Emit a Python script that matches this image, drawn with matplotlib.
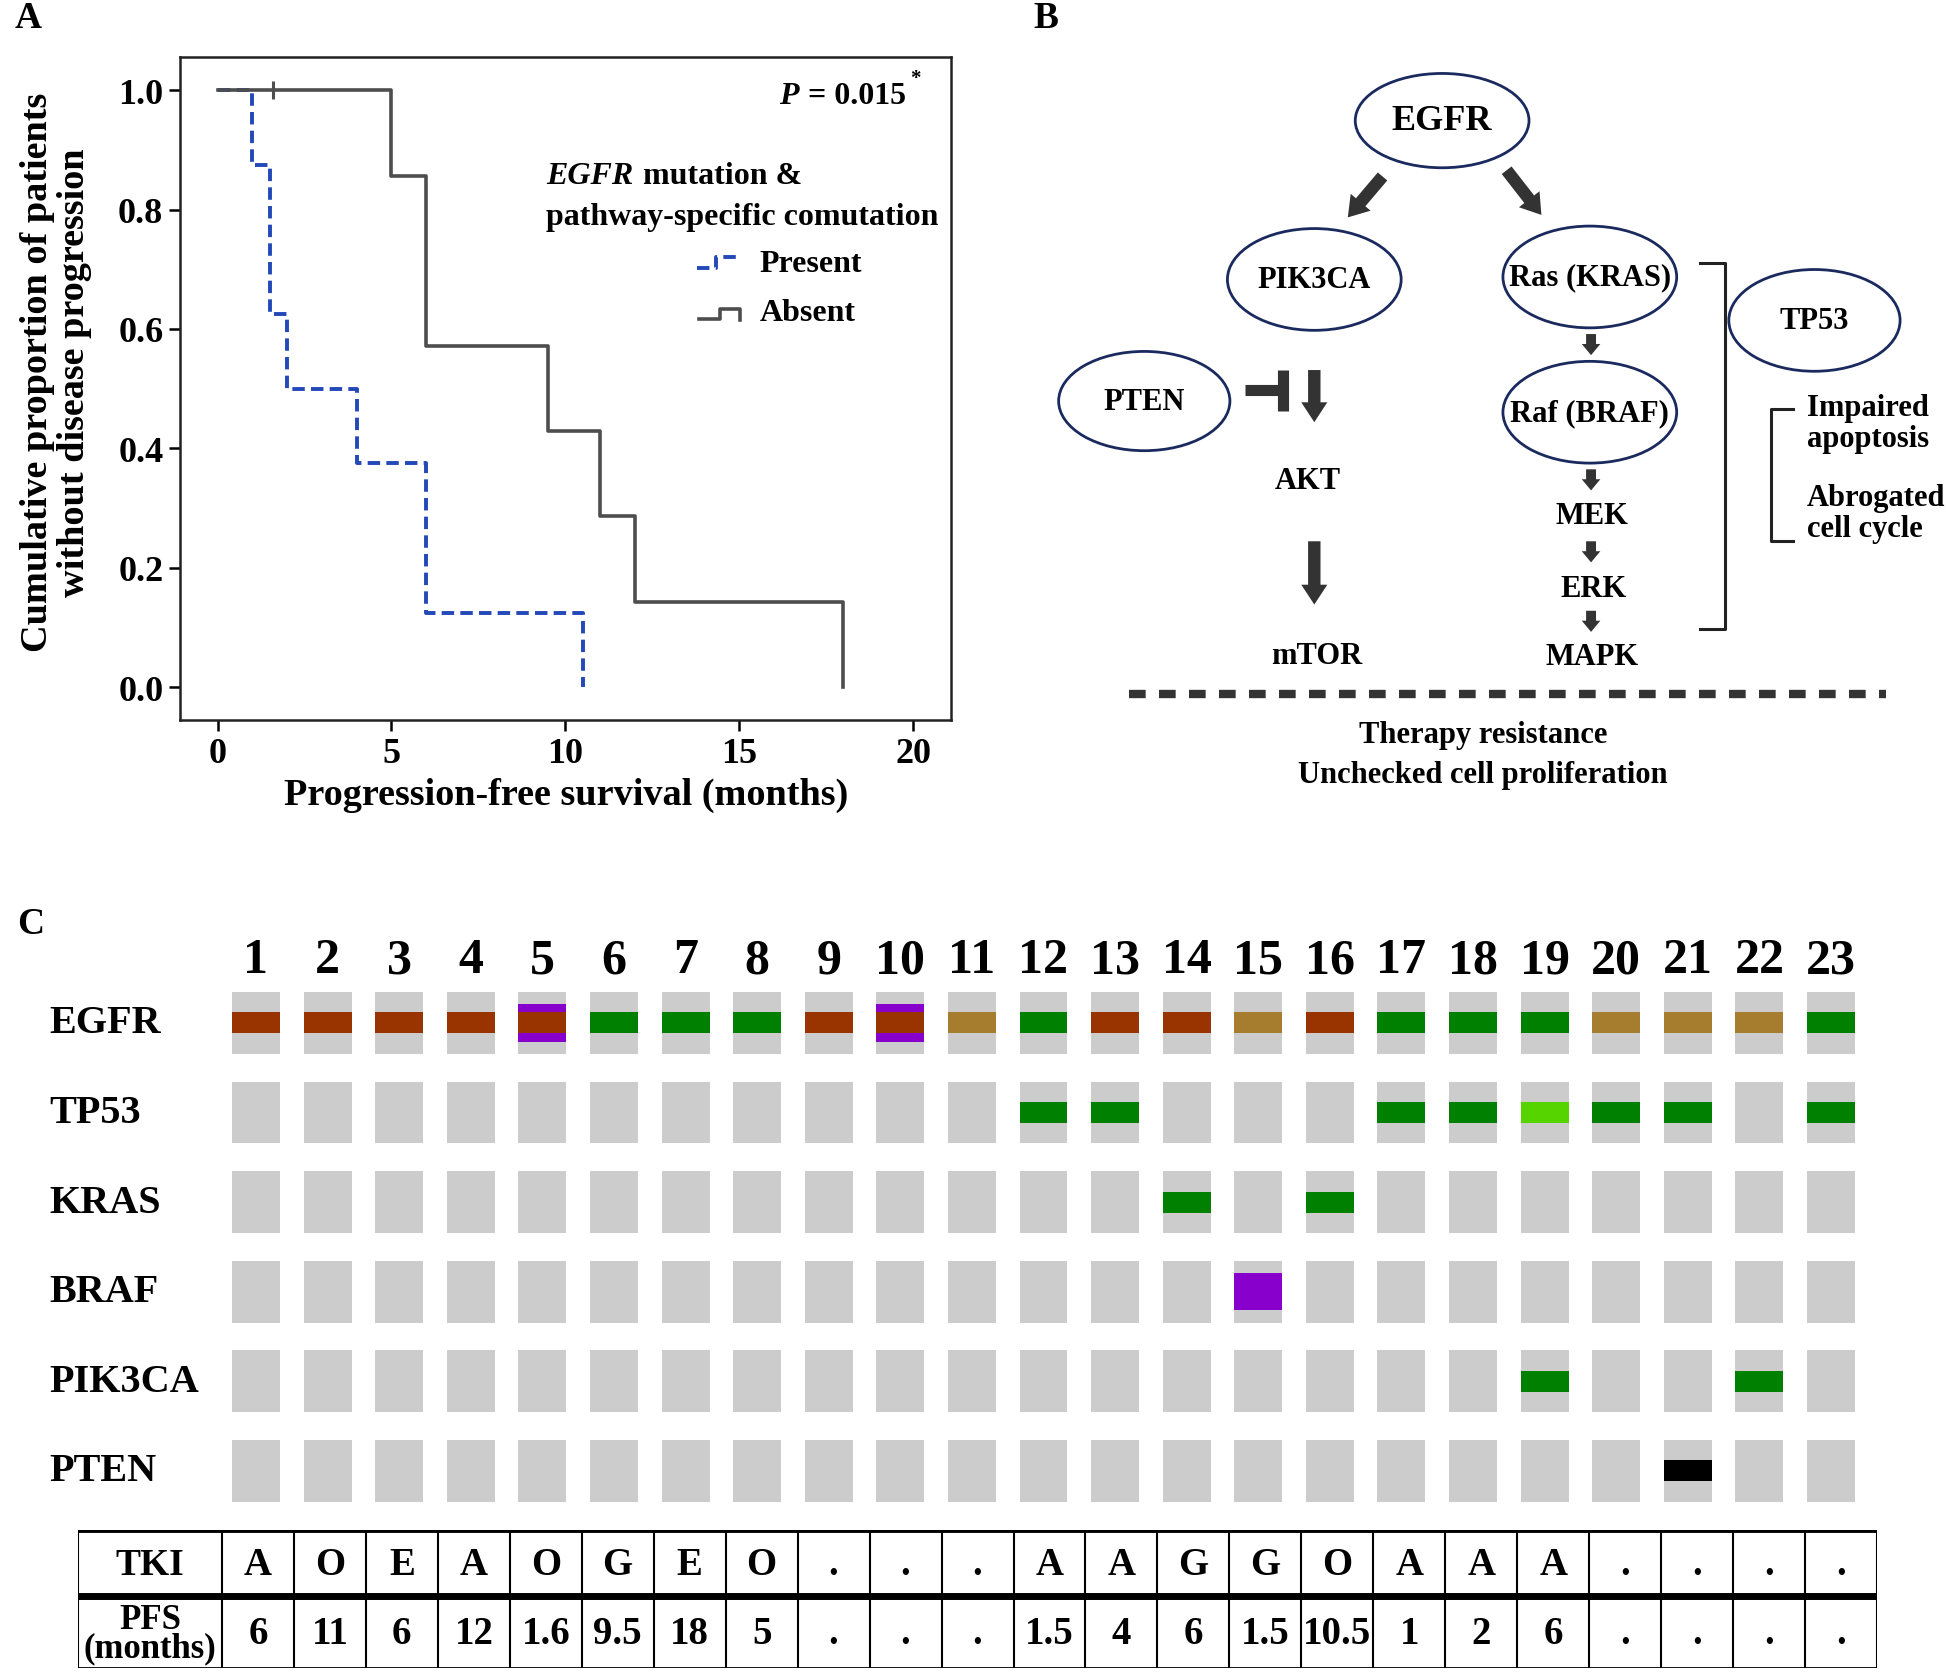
import numpy as np
import matplotlib.pyplot as plt
from matplotlib import transforms
from matplotlib.patches import Ellipse, FancyArrow

plt.rcParams['font.family'] = ['Liberation Serif', 'DejaVu Serif']
plt.rcParams['font.weight'] = 'bold'

# layout units = pixels of the reference as shown (1568 x 1349)
W, H = 1568, 1349

# ---- panel A: Kaplan-Meier steps ----
present_t = [0, 1, 1.5, 2, 4, 6, 10.5]
present_s = [1.0, 0.875, 0.625, 0.5, 0.375, 0.125, 0.0]
absent_t = [0, 5, 6, 9.5, 11, 12, 18]
absent_s = [1.0, 0.857, 0.571, 0.429, 0.286, 0.143, 0.0]
censor_t = [1.6]
censor_s = [1.0]

# ---- panel C: mutation map ----
patients = list(range(1, 24))
genes = ['EGFR', 'TP53', 'KRAS', 'BRAF', 'PIK3CA', 'PTEN']
mut_rows = [
    'rrrrRgggrRtgrrtrgggtttg',
    '...........gg...gglgg.g',
    '.............g.g.......',
    '..............p........',
    '..................g..g.',
    '....................k..',
]
tki = ['A', 'O', 'E', 'A', 'O', 'G', 'E', 'O', '.', '.', '.', 'A', 'A', 'G', 'G',
       'O', 'A', 'A', 'A', '.', '.', '.', '.']
pfs = ['6', '11', '6', '12', '1.6', '9.5', '18', '5', '.', '.', '.', '1.5', '4', '6',
       '1.5', '10.5', '1', '2', '6', '.', '.', '.', '.']

mut_colors = {'r': '#993300', 'R': '#993300', 'g': '#008000', 't': '#a67c2e',
              'p': '#8800cc', 'l': '#55d400', 'k': '#000000'}


def box(x0, y0, x1, y1):
    return [x0 / W, 1 - y1 / H, (x1 - x0) / W, (y1 - y0) / H]


fig = plt.figure(figsize=(19.46, 16.74), dpi=100)

ov = fig.add_axes([0, 0, 1, 1])
ov.set_xlim(0, W)
ov.set_ylim(H, 0)
ov.axis('off')
ov.set_zorder(10)

# ================= A =================
ax = fig.add_axes(box(145, 47, 766.5, 581))
ax.step(present_t, present_s, where='post', color='#2348b8', lw=2.8,
        ls=(0, (3.2, 1.6)), zorder=2)
ax.step(absent_t, absent_s, where='post', color='#4d4d4d', lw=2.6, zorder=3)
ax.plot(censor_t, censor_s, ls='none', marker='|', ms=13, mew=2.2, color='#4d4d4d', zorder=3)
ax.set_xlim(-1.08, 21.1)
ax.set_ylim(-0.055, 1.055)
ax.set_xticks([0, 5, 10, 15, 20])
ax.set_yticks([0, 0.2, 0.4, 0.6, 0.8, 1.0])
ax.set_yticklabels(['0.0', '0.2', '0.4', '0.6', '0.8', '1.0'])
ax.tick_params(labelsize=26, length=8, width=1.8, direction='out', pad=4)
for sp in ax.spines.values():
    sp.set_linewidth(1.8)
    sp.set_color('#222222')

ov.text(12, 15, 'A', fontsize=27, ha='left', va='center')
ov.text(45, 300, 'Cumulative proportion of patients\nwithout disease progression',
        rotation=90, ha='center', va='center', fontsize=27.5, linespacing=1.05)
ov.text(456, 641, 'Progression-free survival (months)', ha='center', va='center', fontsize=27.5)
ov.text(628, 78, 'P', style='italic', fontsize=23, ha='left', va='center')
ov.text(651, 78, '= 0.015', fontsize=23, ha='left', va='center')
ov.text(733, 64, '*', fontsize=15, ha='left', va='center')
ov.text(440, 142, 'EGFR', style='italic', fontsize=23, ha='left', va='center')
ov.text(518, 142, 'mutation &', fontsize=23, ha='left', va='center')
ov.text(440, 175, 'pathway-specific comutation', fontsize=23, ha='left', va='center')
ov.plot([562, 577, 577, 597], [217, 217, 208, 208], color='#2348b8', lw=2.8, ls=(0, (3.2, 1.6)))
ov.text(612, 213, 'Present', fontsize=23, ha='left', va='center')
ov.plot([563, 580, 580, 596, 596], [258, 258, 250, 250, 259], color='#4d4d4d', lw=2.6)
ov.text(612, 253, 'Absent', fontsize=23, ha='left', va='center')

# ================= B =================
ov.text(843, 15, 'B', fontsize=27, ha='center', va='center')
node_col = '#1b2a5e'
nodes = [('EGFR', 1162, 98, 140, 76, 26), ('PIK3CA', 1059, 226, 140, 82, 22),
         ('Ras (KRAS)', 1281, 224, 140, 82, 22), ('PTEN', 922, 324, 138, 80, 22),
         ('Raf (BRAF)', 1281, 333, 140, 82, 22), ('TP53', 1462, 259, 138, 82, 22)]
for name, cx, cy, w, h, fs in nodes:
    ov.add_patch(Ellipse((cx, cy), w, h, fill=False, ec=node_col, lw=2))
    ov.text(cx, cy, name, fontsize=fs, ha='center', va='center')

arr_col = '#333333'
big_arrows = [(1114, 143, -28, 33), (1214, 138, 28, 36), (1059, 299, 0, 42), (1059, 437, 0, 51)]
for x0, y0, dx, dy in big_arrows:
    ov.add_patch(FancyArrow(x0, y0, dx, dy, width=10, head_width=21, head_length=16,
                            length_includes_head=True, color=arr_col, lw=0))
small_arrows = [(1282, 270, 17), (1282, 379, 17), (1282, 437, 17), (1282, 493, 17)]
for x0, y0, dy in small_arrows:
    ov.add_patch(FancyArrow(x0, y0, 0, dy, width=8, head_width=15, head_length=9,
                            length_includes_head=True, color=arr_col, lw=0))
# PTEN inhibition
ov.plot([1003, 1032], [315, 315], color=arr_col, lw=8, solid_capstyle='butt')
ov.plot([1034, 1034], [299, 332], color=arr_col, lw=8, solid_capstyle='butt')

for txt, x, y in [('AKT', 1054, 388), ('mTOR', 1061, 529), ('MEK', 1283, 416),
                  ('ERK', 1284, 475), ('MAPK', 1283, 530)]:
    ov.text(x, y, txt, fontsize=22, ha='center', va='center')

ov.plot([1370, 1390, 1390, 1370], [213, 213, 508, 508], color='#222222', lw=2.2)
ov.plot([1445, 1427, 1427, 1445], [330, 330, 437, 437], color='#222222', lw=2.2)
ov.text(1456, 342, 'Impaired\napoptosis', fontsize=22, ha='left', va='center', linespacing=1.1)
ov.text(1456, 414, 'Abrogated\ncell cycle', fontsize=22, ha='left', va='center', linespacing=1.1)
ov.plot([910, 1520], [560, 560], color='#333333', lw=6, ls=(0, (2.0, 1.6)))
ov.text(1195, 593, 'Therapy resistance', fontsize=22, ha='center', va='center')
ov.text(1195, 625, 'Unchecked cell proliferation', fontsize=22, ha='center', va='center')

# ================= C =================
ov.text(14, 745, 'C', fontsize=27, ha='left', va='center')
axc = fig.add_axes(box(177.4, 789.0, 1504.2, 1222.2))
axc.set_xlim(0.5, 23.5)
axc.set_ylim(5.5, -0.5)
axc.axis('off')
cell_w, cell_h = 0.67, 0.69
for r, row in enumerate(mut_rows):
    axc.bar(patients, cell_h, bottom=r - cell_h / 2, width=cell_w, color='#cccccc', lw=0)
    for p, code in zip(patients, row):
        if code == '.':
            continue
        if code == 'R':
            axc.bar(p, 0.42, bottom=r - 0.21, width=cell_w, color='#8800cc', lw=0)
        h = 0.42 if code == 'p' else 0.234
        axc.bar(p, h, bottom=r - h / 2, width=cell_w, color=mut_colors[code], lw=0)
for p in patients:
    axc.text(p, -0.70, str(p), fontsize=36, ha='center', va='center')
lab_tr = transforms.blended_transform_factory(ov.transData, axc.transData)
for r, g in enumerate(genes):
    axc.text(40, r, g, transform=lab_tr, fontsize=29, ha='left', va='center')

# table
axt = fig.add_axes(box(62.9, 1233.6, 1512.4, 1344.9))
axt.set_xlim(-2, 23)
axt.set_ylim(2, 0)
axt.axis('off')
axt.axhline(0, color='black', lw=3.5)
axt.axhline(0.956, color='black', lw=5)
axt.axhline(2, color='black', lw=2)
axt.vlines([-2, 0] + patients, 0, 2, color='black', lw=1.5)
axt.text(-1, 0.5, 'TKI', fontsize=27, ha='center', va='center')
axt.text(-1, 1.5, 'PFS\n(months)', fontsize=25, ha='center', va='center', linespacing=0.8)
for i, (a, b) in enumerate(zip(tki, pfs)):
    axt.text(i + 0.5, 0.5, a, fontsize=28, ha='center', va='center')
    axt.text(i + 0.5, 1.5, b, fontsize=28, ha='center', va='center')

fig.savefig('out.png', dpi=100)
